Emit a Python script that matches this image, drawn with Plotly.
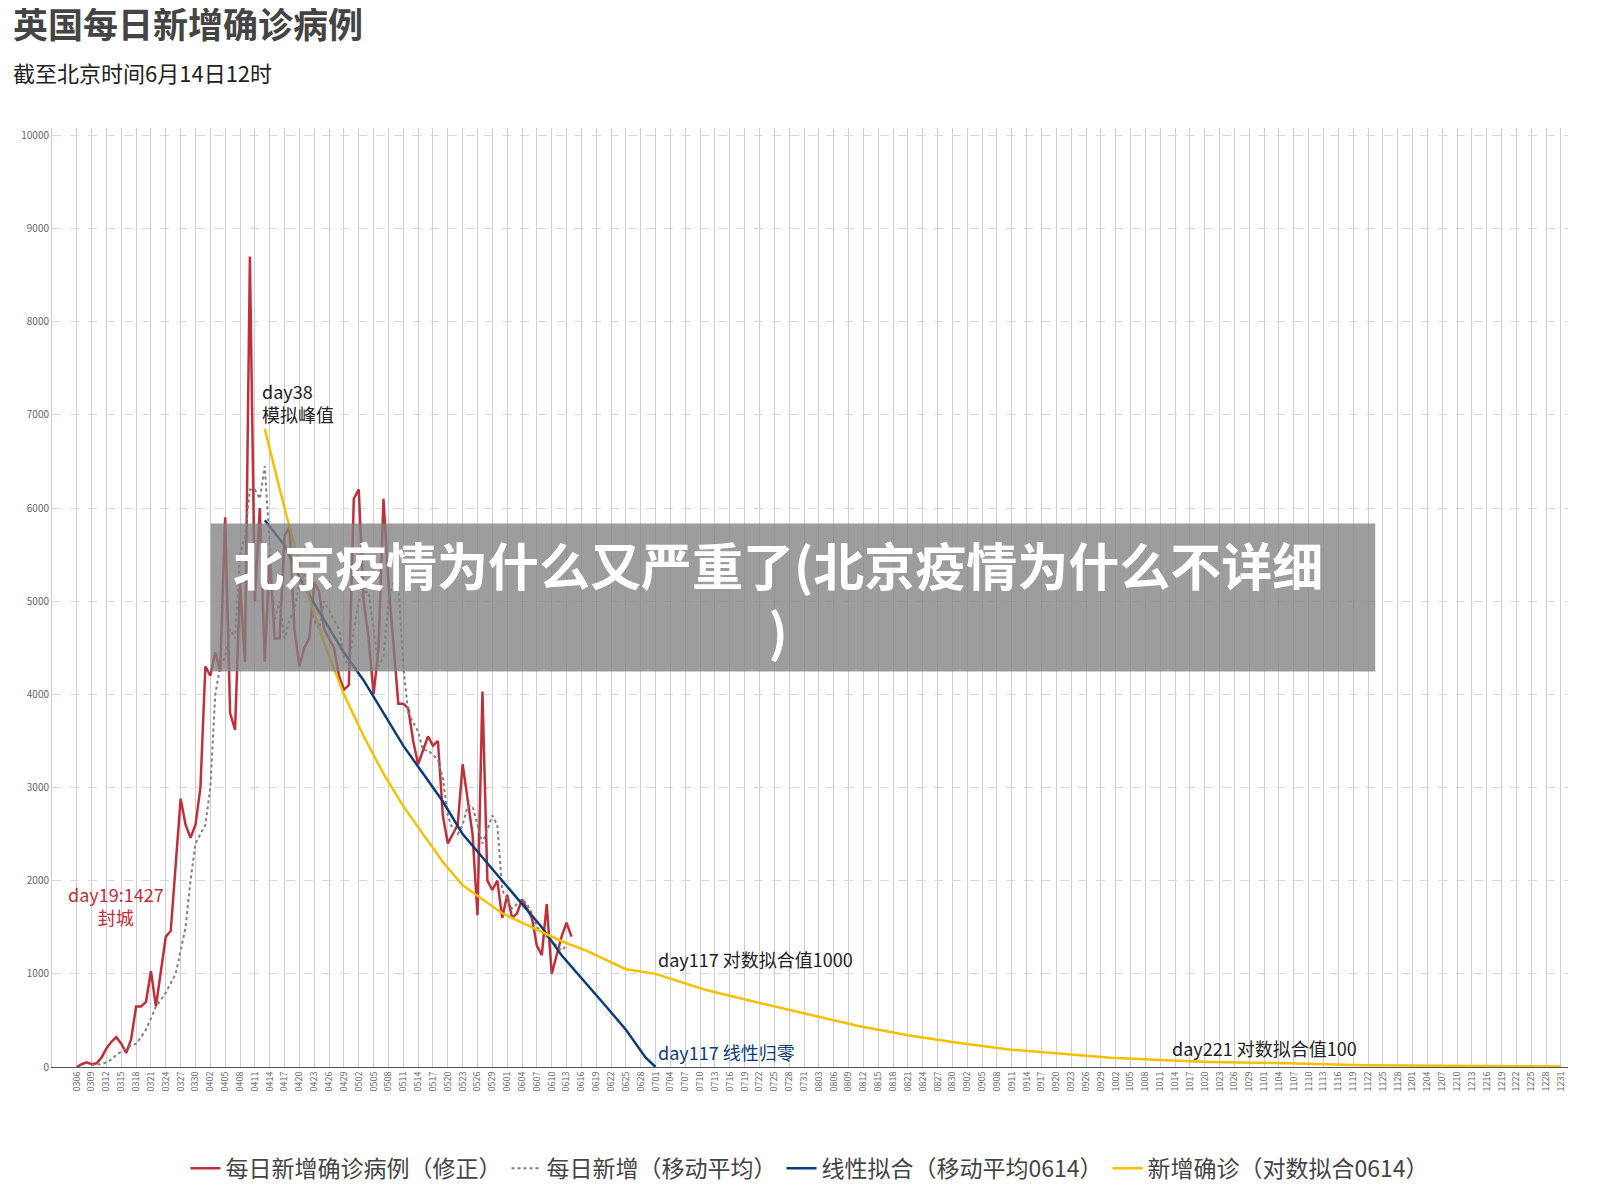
import datetime as dt
import plotly.graph_objects as go

start = dt.date(2020, 3, 6)

# daily new cases (corrected), consecutive days from 03/06
red_vals = [0, 30, 50, 30, 40, 100, 200, 270, 320, 250, 150, 300, 650, 650, 700, 1030, 650, 1000,
            1400, 1460, 2200, 2880, 2600, 2460, 2600, 3000, 4300, 4200, 4450, 4250, 5900, 3800,
            3620, 5200, 4350, 8700, 5000, 6000, 4350, 5500, 4600, 4600, 5700, 5800, 4700, 4300,
            4500, 4600, 5200, 5100, 4700, 4600, 4500, 4200, 4050, 4100, 6100, 6200, 5000, 4600, 4000,
            4500, 6100, 5200, 4500, 3900, 3900, 3850, 3500, 3250, 3400, 3550, 3450, 3500, 2700,
            2400, 2500, 2600, 3250, 2900, 2500, 1630, 4030, 2000, 1900, 2000, 1600, 1850, 1600,
            1650, 1800, 1700, 1600, 1300, 1200, 1750, 1000, 1200, 1400, 1550, 1400]

# moving average, consecutive days from 03/09
gray_vals = [20, 25, 30, 50, 80, 130, 170, 200, 230, 250, 320, 400, 520, 650, 720, 800, 900, 1000,
             1250, 1500, 2000, 2400, 2500, 2600, 3000, 4000, 4300, 4400, 4700, 4600, 5500, 5700,
             6200, 6200, 6100, 6450, 5600, 4800, 5000, 4600, 4800, 4900, 5200, 5300, 5100, 4800,
             4700, 5000, 4900, 4800, 4700, 4400, 4300, 4700, 5000, 5100, 5100, 4700, 4300, 4400, 5000,
             5200, 5200, 4300, 3800, 3700, 3600, 3400, 3400, 3350, 3300, 3100, 2700, 2550, 2500,
             2600, 2800, 2800, 2600, 2400, 2550, 2700, 2600, 1900, 1800, 1700, 1750, 1800, 1750,
             1650, 1500, 1450, 1400, 1350, 1300, 1250, 1300]

# linear fit (day offset from 03/06, value)
blue_days = [38, 42, 46, 50, 54, 58, 62, 66, 70, 74, 78, 82, 86, 90, 94, 98, 103, 107, 111, 115, 117]
blue_vals = [5870, 5600, 5150, 4800, 4450, 4150, 3800, 3450, 3150, 2850, 2500, 2250, 2000, 1750,
             1500, 1200, 900, 650, 400, 100, 0]

# log fit (day offset from 03/06, value)
yellow_days = [38, 42, 46, 50, 54, 58, 62, 66, 70, 74, 78, 82, 86, 90, 94, 98, 103, 107, 111, 117,
               127, 137, 148, 158, 168, 178, 188, 199, 209, 219, 229, 245, 260, 300]
yellow_vals = [6850, 6000, 5200, 4550, 4000, 3550, 3150, 2800, 2500, 2200, 1950, 1800, 1650, 1550,
               1450, 1350, 1250, 1150, 1050, 1000, 830, 700, 560, 440, 340, 260, 190, 140, 100,
               75, 55, 40, 20, 5]


def day(n):
    return start + dt.timedelta(days=n)


red_x = [day(i) for i in range(len(red_vals))]
gray_x = [day(3 + i) for i in range(len(gray_vals))]
blue_x = [day(d) for d in blue_days]
yellow_x = [day(d) for d in yellow_days]
tick_dates = [day(3 * i) for i in range(101)]

fig = go.Figure()
fig.add_trace(go.Scatter(x=red_x, y=red_vals, mode="lines", name="每日新增确诊病例（修正）",
                         line=dict(color="#c0303c", width=2.5)))
fig.add_trace(go.Scatter(x=gray_x, y=gray_vals, mode="lines", name="每日新增（移动平均）",
                         line=dict(color="#808080", width=2, dash="dot")))
fig.add_trace(go.Scatter(x=blue_x, y=blue_vals, mode="lines", name="线性拟合（移动平均0614）",
                         line=dict(color="#0b3d7a", width=2.5)))
fig.add_trace(go.Scatter(x=yellow_x, y=yellow_vals, mode="lines", name="新增确诊（对数拟合0614）",
                         line=dict(color="#f5c000", width=2.5)))

notes = [
    (day(37), 6850, "day38<br>模拟峰值", "#222", "left"),
    (day(8), 1450, "day19:1427<br>封城", "#c0303c", "center"),
    (day(117), 1000, "day117 对数拟合值1000", "#222", "left"),
    (day(117), 0, "day117 线性归零", "#0b3d7a", "left"),
    (day(221), 40, "day221 对数拟合值100", "#222", "left"),
]
for x, y, t, c, a in notes:
    fig.add_annotation(x=x, y=y, text=t, showarrow=False, xanchor="left" if a == "left" else "center",
                       yanchor="bottom", align=a, font=dict(size=18, color=c))

fig.add_annotation(xref="paper", yref="paper", x=-0.027, y=1.083, xanchor="left", yanchor="bottom",
                   text="<b>英国每日新增确诊病例</b>", showarrow=False, font=dict(size=35, color="#444"))
fig.add_annotation(xref="paper", yref="paper", x=-0.027, y=1.04, xanchor="left", yanchor="bottom",
                   text="截至北京时间6月14日12时", showarrow=False, font=dict(size=22, color="#222"))

fig.add_shape(type="rect", xref="paper", yref="paper", x0=(203 - 45) / 1510, x1=(1363 - 45) / 1510,
              y0=(1046 - 658) / 921, y1=(1046 - 513) / 921, fillcolor="rgba(130,130,130,0.78)",
              line=dict(width=0), layer="above")
fig.add_annotation(xref="paper", yref="paper", x=(768 - 45) / 1510, y=(1046 - 585) / 921,
                   text="<b>北京疫情为什么又严重了(北京疫情为什么不详细<br>)</b>", showarrow=False,
                   font=dict(size=51, color="white"), align="center")

fig.update_layout(
    width=1600, height=1195, paper_bgcolor="white", plot_bgcolor="white",
    margin=dict(l=44, r=40, t=120, b=136),
    font=dict(family="Noto Sans CJK SC, sans-serif"),
    showlegend=True,
    legend=dict(orientation="h", x=0.5, xanchor="center", y=-0.085, yanchor="top",
                font=dict(size=23, color="#444")),
)
fig.update_xaxes(range=[dt.date(2020, 3, 1), dt.datetime(2021, 1, 1, 10)], tickmode="array",
                 tickvals=tick_dates, tickformat="%m%d", tickangle=-90, tickfont=dict(size=9, color="#666"),
                 showgrid=True, gridcolor="#cfcfcf", gridwidth=1, showline=True, linecolor="#555",
                 ticks="", automargin=False)
fig.update_yaxes(range=[0, 10080], dtick=1000, tickformat="d", tickfont=dict(size=10, color="#666"),
                 showgrid=True, gridcolor="#d8d8d8", griddash="dash", zeroline=False,
                 showline=True, linecolor="#ccc", automargin=False)
fig.write_html("out.html")
